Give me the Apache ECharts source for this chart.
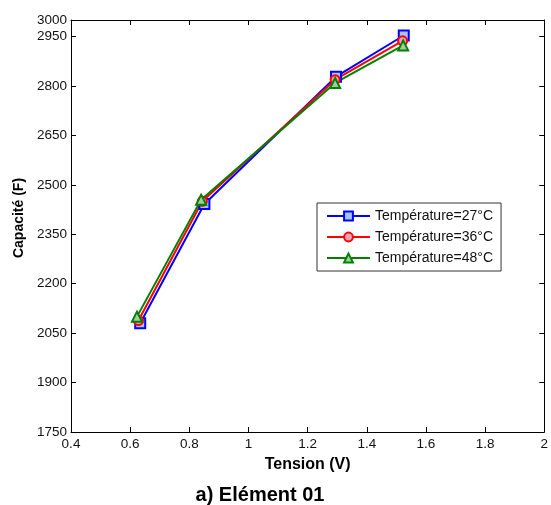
<!DOCTYPE html>
<html><head><meta charset="utf-8">
<script src="https://cdn.jsdelivr.net/npm/echarts@6/dist/echarts.min.js"></script>
<style>html,body{margin:0;padding:0;background:#fff}#c{width:551px;height:505px}</style>
</head><body><div id="c"></div>
<script>
const seriesNames = ['Température=27°C', 'Température=36°C', 'Température=48°C'];
const tension27 = [0.634, 0.851, 1.296, 1.525];
const capa27 = [2080, 2442, 2828, 2953];
const tension36 = [0.628, 0.844, 1.293, 1.521];
const capa36 = [2088, 2450, 2819, 2937];
const tension48 = [0.623, 0.840, 1.293, 1.523];
const capa48 = [2100, 2455, 2809, 2923];
const xTitle = 'Tension (V)';
const yTitle = 'Capacité (F)';
const chartTitle = 'a) Elément 01';

const font = 'Liberation Sans, Arial, sans-serif';
const zip = (xs, ys) => xs.map((x, i) => [x, ys[i]]);
const chart = echarts.init(document.getElementById('c'), null, {renderer: 'canvas'});
const tickStyle = {show: true, inside: true, length: 5, lineStyle: {color: '#000', width: 1}};
const mk = (name, data, color, fill, symbol, size) => ({
  name, type: 'line', data, symbol, symbolSize: size, showSymbol: true,
  lineStyle: {color, width: 2}, itemStyle: {color: fill, borderColor: color, borderWidth: 2},
  animation: false
});
chart.setOption({
  backgroundColor: '#fff',
  animation: false,
  title: {text: chartTitle, left: 260, top: 485, textAlign: 'center', padding: 0,
    textStyle: {fontFamily: font, fontSize: 20, fontWeight: 'bold', color: '#000'}},
  grid: {left: 71, top: 20, right: 1, bottom: 73, containLabel: false},
  legend: {
    orient: 'vertical', left: 317, top: 203,
    padding: [6, 8, 6, 9], itemGap: 7, itemWidth: 43, itemHeight: 11,
    borderColor: '#333', borderWidth: 1, backgroundColor: '#fff',
    textStyle: {fontFamily: font, fontSize: 14, color: '#111'},
    data: seriesNames
  },
  xAxis: [{
    type: 'value', min: 0.4, max: 2, interval: 0.2, position: 'bottom',
    name: xTitle, nameLocation: 'middle', nameGap: 25,
    nameTextStyle: {fontFamily: font, fontSize: 16, fontWeight: 'bold', color: '#000'},
    axisLine: {show: true, onZero: false, lineStyle: {color: '#000', width: 1}},
    axisTick: tickStyle, splitLine: {show: false},
    axisLabel: {fontFamily: font, fontSize: 13.5, color: '#111', margin: 5}
  }, {
    type: 'value', min: 0.4, max: 2, interval: 0.2, position: 'top',
    axisLine: {show: true, onZero: false, lineStyle: {color: '#000', width: 1}},
    axisTick: tickStyle, axisLabel: {show: false}, splitLine: {show: false}
  }],
  yAxis: [{
    type: 'value', min: 1750, max: 3000, interval: 150, position: 'left',
    name: yTitle, nameLocation: 'middle', nameGap: 42, nameRotate: 90,
    nameTextStyle: {fontFamily: font, fontSize: 14, fontWeight: 'bold', color: '#000',
      padding: [0, 0, 0, 16]},
    axisLine: {show: true, onZero: false, lineStyle: {color: '#000', width: 1}},
    axisTick: tickStyle, splitLine: {show: false},
    axisLabel: {fontFamily: font, fontSize: 13.5, color: '#111', margin: 4,
      formatter: v => String(v)}
  }, {
    type: 'value', min: 1750, max: 3000, interval: 150, position: 'right',
    axisLine: {show: true, onZero: false, lineStyle: {color: '#000', width: 1}},
    axisTick: tickStyle, axisLabel: {show: false}, splitLine: {show: false}
  }],
  series: [
    mk(seriesNames[0], zip(tension27, capa27), '#0000ff', '#a8c4f0', 'rect', 10),
    mk(seriesNames[1], zip(tension36, capa36), '#ff0000', '#e8a4bc', 'circle', 9),
    mk(seriesNames[2], zip(tension48, capa48), '#008000', '#a4cca4', 'triangle', 10)
  ]
});
</script></body></html>
